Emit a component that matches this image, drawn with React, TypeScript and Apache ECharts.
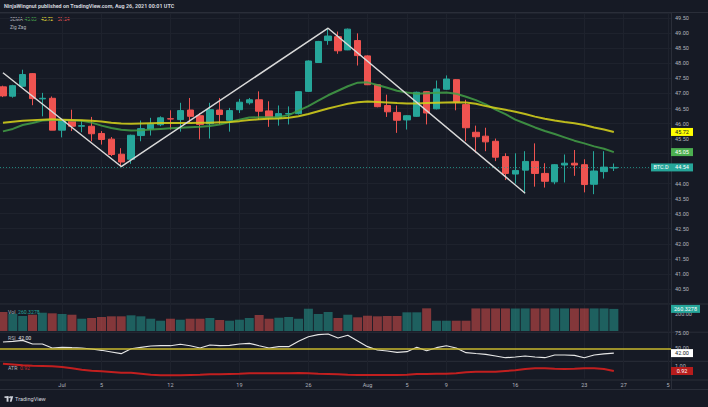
import React, { useEffect, useRef } from "react";
import * as echarts from "echarts";

// ---------------- data ----------------
const HEADER = "NinjaWingnut published on TradingView.com, Aug 26, 2021 00:01 UTC";
const SYMBOL = "BTC.D";

// daily candles, Jun 25 .. Aug 26 2021 (index 0..62)
const opens = [47.22, 46.91, 47.24, 47.66, 46.82, 46.84, 45.78, 46.08, 45.91, 45.91, 45.67, 45.48, 44.98, 44.81, 45.60, 45.82, 45.96, 46.16, 46.13, 46.45, 46.26, 45.99, 46.45, 46.11, 46.46, 46.69, 46.79, 46.42, 46.18, 46.32, 46.33, 47.07, 48.03, 48.76, 48.89, 48.45, 48.76, 48.25, 47.29, 46.60, 46.37, 46.12, 46.24, 47.06, 46.49, 47.14, 47.46, 46.63, 45.71, 45.58, 45.41, 44.90, 44.32, 44.45, 44.74, 44.34, 44.06, 44.62, 44.68, 44.63, 43.98, 44.40, 44.52];
const closes = [46.92, 47.26, 47.63, 46.83, 46.84, 45.78, 46.10, 45.91, 45.93, 45.66, 45.47, 44.97, 44.72, 45.61, 45.83, 45.98, 46.19, 46.15, 46.43, 46.24, 45.97, 46.46, 46.30, 46.43, 46.71, 46.79, 46.41, 46.19, 46.33, 46.33, 47.06, 48.08, 48.73, 48.91, 48.42, 49.14, 48.26, 47.29, 46.56, 46.39, 46.11, 46.26, 47.04, 46.35, 47.15, 47.48, 46.71, 45.86, 45.56, 45.39, 44.88, 44.34, 44.44, 44.74, 44.34, 44.08, 44.63, 44.68, 44.62, 43.97, 44.42, 44.55, 44.54];
const lows = [46.88, 46.86, 47.23, 46.61, 46.24, 45.78, 45.54, 45.75, 45.71, 45.41, 45.30, 44.92, 44.57, 44.66, 45.41, 45.60, 45.91, 45.80, 45.73, 46.02, 45.47, 45.50, 45.97, 45.73, 46.35, 46.63, 46.13, 45.89, 45.93, 45.97, 46.30, 47.05, 48.02, 48.62, 48.32, 48.44, 47.93, 47.28, 46.54, 46.22, 45.69, 45.80, 46.22, 45.97, 46.47, 47.12, 46.44, 45.41, 45.03, 45.08, 44.75, 44.12, 44.00, 43.68, 43.90, 43.87, 43.98, 44.04, 44.26, 43.71, 43.65, 44.17, 44.42];
const highs = [47.26, 47.29, 47.79, 47.68, 47.02, 46.90, 46.15, 46.46, 46.10, 46.22, 45.75, 45.55, 45.18, 45.63, 46.10, 46.19, 46.24, 46.44, 46.69, 46.85, 46.35, 46.69, 46.85, 46.52, 46.82, 46.85, 47.07, 46.74, 46.60, 46.57, 47.07, 48.10, 48.75, 49.14, 49.06, 49.16, 49.00, 48.27, 47.31, 46.96, 46.60, 46.28, 47.06, 47.08, 47.43, 47.60, 47.48, 46.79, 45.93, 45.86, 45.50, 45.01, 45.01, 45.08, 45.34, 44.68, 44.65, 44.97, 45.12, 44.81, 45.08, 45.08, 44.67];

const emaFast = [45.74, 45.82, 45.95, 46.02, 46.10, 46.12, 46.12, 46.10, 46.09, 46.03, 45.93, 45.85, 45.79, 45.77, 45.78, 45.80, 45.82, 45.84, 45.86, 45.88, 45.89, 45.92, 45.97, 46.05, 46.13, 46.20, 46.21, 46.21, 46.22, 46.28, 46.43, 46.58, 46.76, 46.94, 47.09, 47.24, 47.36, 47.37, 47.28, 47.19, 47.09, 47.03, 46.99, 47.01, 47.02, 47.03, 46.99, 46.89, 46.78, 46.64, 46.46, 46.31, 46.13, 46.00, 45.87, 45.75, 45.65, 45.54, 45.43, 45.34, 45.24, 45.16, 45.05];
const emaMid = [46.03, 46.06, 46.09, 46.11, 46.13, 46.14, 46.13, 46.12, 46.11, 46.09, 46.07, 46.03, 46.00, 45.99, 46.00, 46.01, 46.02, 46.02, 46.02, 46.02, 46.03, 46.03, 46.04, 46.05, 46.08, 46.12, 46.14, 46.16, 46.17, 46.19, 46.24, 46.32, 46.41, 46.50, 46.58, 46.66, 46.71, 46.73, 46.72, 46.70, 46.68, 46.67, 46.67, 46.68, 46.69, 46.70, 46.71, 46.70, 46.66, 46.58, 46.52, 46.46, 46.39, 46.32, 46.23, 46.16, 46.10, 46.05, 46.01, 45.95, 45.87, 45.80, 45.72];
const emaSlowLast = 50.24;

const zigzagIdx = [0, 12, 33, 53];
const zigzagVal = [47.69, 44.57, 49.17, 43.68];

const volumes = [223.5, 203.5, 176.5, 191.8, 215.3, 208.2, 200, 191.8, 144.7, 152.9, 164.7, 172.9, 172.9, 184.7, 172.9, 144.7, 121.2, 144.7, 132.9, 144.7, 144.7, 152.9, 129.4, 121.2, 132.9, 152.9, 188.2, 144.7, 156.5, 164.7, 144.7, 262.4, 200, 223.5, 152.9, 191.8, 161.2, 180, 172.9, 176.5, 176.5, 220, 220, 267, 121.2, 121.2, 121.2, 121.2, 266, 266, 266, 266, 266, 266, 266, 266, 266, 266, 266, 266, 266, 266, 260.3278];

const rsi = [60.5, 61.7, 63.3, 57.2, 57.2, 50.5, 51.7, 51.0, 50.5, 48.8, 46.7, 43.8, 41.0, 49.3, 51.7, 53.8, 54.3, 54.3, 56.7, 54.3, 50.5, 55.5, 54.3, 55.0, 57.2, 58.3, 54.3, 50.5, 52.7, 52.7, 61.7, 69.3, 72.7, 73.8, 67.2, 71.7, 62.2, 52.7, 47.2, 45.5, 43.3, 44.3, 51.7, 46.0, 51.0, 54.3, 50.5, 42.7, 41.3, 40.0, 37.2, 34.3, 35.5, 37.2, 35.5, 34.3, 38.8, 38.8, 38.3, 34.3, 38.8, 40.8, 42.0];
const rsiLevel = 50;

const atr = [1.037, 1.024, 1.011, 1.005, 1.0, 0.995, 0.984, 0.963, 0.941, 0.925, 0.915, 0.904, 0.893, 0.893, 0.877, 0.861, 0.851, 0.851, 0.851, 0.856, 0.861, 0.867, 0.867, 0.872, 0.877, 0.883, 0.883, 0.883, 0.883, 0.883, 0.888, 0.883, 0.877, 0.872, 0.867, 0.861, 0.856, 0.856, 0.856, 0.856, 0.856, 0.861, 0.872, 0.872, 0.877, 0.877, 0.883, 0.899, 0.909, 0.909, 0.909, 0.92, 0.931, 0.952, 0.963, 0.963, 0.957, 0.952, 0.957, 0.963, 0.963, 0.952, 0.92];

const dateTickIdx = [6, 10, 17, 24, 31, 37, 41, 45, 52, 59, 63, 67.5];
const dateTickText = ["Jul", "5", "12", "19", "26", "Aug", "5", "9", "16", "23", "27", "5"];

// ---------------- style ----------------
const BG = "#161a25";
const GRID = "#1e222d";
const SEP = "#2a2e39";
const TXT = "#b2b5be";
const UP = "#26a69a";
const DOWN = "#ef5350";
const FONT = "Roboto, 'Liberation Sans', sans-serif";
const X_MIN = -0.3;
const X_MAX = 67.8;

const last = (a: number[]) => a[a.length - 1];

function tag(value: number, text: string, bg: string, fg: string, w: number, dx: number) {
  return {
    coord: [X_MAX, value],
    symbol: "rect",
    symbolSize: [w, 8],
    symbolOffset: [dx, 0],
    itemStyle: { color: bg },
    label: { show: true, position: "inside", formatter: text, color: fg, fontSize: 5.5, fontFamily: FONT },
  };
}

export default function App() {
  const ref = useRef<HTMLDivElement>(null);
  useEffect(() => {
    const chart = echarts.init(ref.current!, null, { renderer: "svg" });
    const idx = opens.map((_, i) => i);
    const candleData = idx.map((i) => [i, opens[i], closes[i], lows[i], highs[i]]);
    const volData = idx.map((i) => ({
      value: [i, volumes[i]],
      itemStyle: { color: closes[i] >= opens[i] ? "rgba(38,166,154,0.5)" : "rgba(239,83,80,0.5)" },
    }));
    const lastClose = last(closes);

    const xAxis = (gi: number, showLabel: boolean) => ({
      type: "value",
      gridIndex: gi,
      min: X_MIN,
      max: X_MAX,
      axisLine: { show: false },
      axisTick: { show: false, customValues: dateTickIdx },
      axisLabel: {
        show: showLabel,
        customValues: dateTickIdx,
        formatter: (v: number) => {
          const k = dateTickIdx.findIndex((t) => Math.abs(t - v) < 1e-6);
          return k >= 0 ? dateTickText[k] : "";
        },
        color: TXT,
        fontSize: 5.5,
        fontFamily: FONT,
        margin: 3,
      },
      splitLine: { show: true, lineStyle: { color: GRID, width: 1 } },
    });

    const yLabel = { color: TXT, fontSize: 5.5, fontFamily: FONT, margin: 4 };

    const option: any = {
      animation: false,
      backgroundColor: BG,
      grid: [
        { left: 0, right: 37, top: 13, height: 290.9 },
        { left: 0, right: 37, top: 304, height: 27 },
        { left: 0, right: 37, top: 332.7, height: 30.6 },
        { left: 0, right: 37, top: 361.3, height: 17.2 },
      ],
      xAxis: [xAxis(0, false), xAxis(1, false), xAxis(2, false), xAxis(3, true)],
      yAxis: [
        {
          type: "value", gridIndex: 0, position: "right", min: 40, max: 49.677, interval: 0.5,
          axisLine: { show: false }, axisTick: { show: false },
          axisLabel: {
            ...yLabel,
            formatter: (v: number) => (Math.abs(v * 2 - Math.round(v * 2)) < 1e-6 && v > 40.1 && v < 49.6 ? v.toFixed(2) : ""),
          },
          splitLine: { show: true, lineStyle: { color: GRID } },
        },
        {
          type: "value", gridIndex: 1, position: "right", min: 0, max: 318, interval: 200,
          axisLine: { show: false }, axisTick: { show: false },
          axisLabel: { ...yLabel, formatter: (v: number) => (v === 200 ? "200.00" : "") },
          splitLine: { show: false },
        },
        {
          type: "value", gridIndex: 2, position: "right", min: 25, max: 76, interval: 25,
          axisLine: { show: false }, axisTick: { show: false },
          axisLabel: { ...yLabel, formatter: (v: number) => (v === 50 || v === 75 ? v.toFixed(2) : "") },
          splitLine: { show: false },
        },
        {
          type: "value", gridIndex: 3, position: "right", min: 0.8, max: 1.0752, interval: 0.1,
          axisLine: { show: false }, axisTick: { show: false },
          axisLabel: { ...yLabel, formatter: (v: number) => (Math.abs(v - 1) < 1e-6 ? "1.00" : "") },
          splitLine: { show: false },
        },
      ],
      series: [
        {
          type: "candlestick",
          xAxisIndex: 0, yAxisIndex: 0,
          data: candleData,
          encode: { x: 0, y: [1, 2, 3, 4] },
          barWidth: 6.8,
          itemStyle: { color: UP, color0: DOWN, borderColor: UP, borderColor0: DOWN, borderWidth: 1 },
          z: 3,
          markLine: {
            silent: true, symbol: ["none", "none"], label: { show: false },
            lineStyle: { color: "#26a69a", opacity: 0.75, type: [1, 2], width: 1 },
            data: [{ yAxis: lastClose }],
          },
          markPoint: {
            silent: true,
            data: [
              tag(lastClose, SYMBOL, UP, "#ffffff", 20, -10),
              tag(lastClose, lastClose.toFixed(2), UP, "#ffffff", 22, 11),
            ],
          },
        },
        {
          type: "line", xAxisIndex: 0, yAxisIndex: 0,
          data: idx.map((i) => [i, emaFast[i]]),
          showSymbol: false, z: 4,
          lineStyle: { color: "#43a047", width: 2, opacity: 0.85 },
          markPoint: { silent: true, data: [tag(last(emaFast), last(emaFast).toFixed(2), "#4caf50", "#ffffff", 22, 11)] },
        },
        {
          type: "line", xAxisIndex: 0, yAxisIndex: 0,
          data: idx.map((i) => [i, emaMid[i]]),
          showSymbol: false, z: 4,
          lineStyle: { color: "#cfcc1c", width: 2, opacity: 0.9 },
          markPoint: { silent: true, data: [tag(last(emaMid), last(emaMid).toFixed(2), "#ffff00", "#131722", 22, 11)] },
        },
        {
          type: "line", xAxisIndex: 0, yAxisIndex: 0,
          data: zigzagIdx.map((x, k) => [x, zigzagVal[k]]),
          showSymbol: false, z: 5,
          lineStyle: { color: "#d8d8d8", width: 1.5 },
        },
        {
          type: "bar", xAxisIndex: 1, yAxisIndex: 1,
          data: volData, barWidth: 9,
          markPoint: { silent: true, data: [tag(last(volumes), last(volumes).toFixed(4), UP, "#ffffff", 29, 14.5)] },
        },
        {
          type: "line", xAxisIndex: 2, yAxisIndex: 2,
          data: idx.map((i) => [i, rsi[i]]),
          showSymbol: false,
          lineStyle: { color: "#e6e6e6", width: 1.2 },
          markLine: {
            silent: true, symbol: ["none", "none"], label: { show: false },
            lineStyle: { color: "#c9b82c", type: "solid", width: 1.5 },
            data: [{ yAxis: rsiLevel }],
          },
          markPoint: { silent: true, data: [tag(last(rsi), last(rsi).toFixed(2), "#ffffff", "#131722", 22, 11)] },
        },
        {
          type: "line", xAxisIndex: 3, yAxisIndex: 3,
          data: idx.map((i) => [i, atr[i]]),
          showSymbol: false,
          lineStyle: { color: "#c21f1f", width: 2 },
          markPoint: { silent: true, data: [tag(last(atr), last(atr).toFixed(2), "#b71c1c", "#ffffff", 22, 11)] },
        },
      ],
      graphic: [
        ...[12.5, 304, 332.2, 361.3, 380, 389.5].map((y) => ({
          type: "line", silent: true, shape: { x1: 0, y1: y, x2: 708, y2: y }, style: { stroke: SEP, lineWidth: 1 },
        })),
        { type: "line", silent: true, shape: { x1: 671.5, y1: 12.5, x2: 671.5, y2: 389.5 }, style: { stroke: SEP, lineWidth: 1 } },
        { type: "text", silent: true, x: 4, y: 6, style: { text: HEADER, fill: "#d1d4dc", fontSize: 5.4, fontWeight: "bold", fontFamily: FONT, verticalAlign: "middle" } },
        { type: "text", silent: true, x: 10, y: 19, style: { text: "3EMA", fill: TXT, fontSize: 4.8, fontFamily: FONT, verticalAlign: "middle" } },
        { type: "text", silent: true, x: 24.5, y: 19, style: { text: last(emaFast).toFixed(2), fill: "#4caf50", fontSize: 4.8, fontFamily: FONT, verticalAlign: "middle" } },
        { type: "text", silent: true, x: 41, y: 19, style: { text: last(emaMid).toFixed(2), fill: "#ffeb3b", fontSize: 4.8, fontFamily: FONT, verticalAlign: "middle" } },
        { type: "text", silent: true, x: 57.5, y: 19, style: { text: emaSlowLast.toFixed(2), fill: DOWN, fontSize: 4.8, fontFamily: FONT, verticalAlign: "middle" } },
        { type: "text", silent: true, x: 10, y: 27, style: { text: "Zig Zag", fill: TXT, fontSize: 4.8, fontFamily: FONT, verticalAlign: "middle" } },
        {
          type: "text", silent: true, x: 8, y: 311.7,
          style: { text: "{a|Vol}  {b|" + last(volumes).toFixed(4) + "}", fontSize: 5.2, fontFamily: FONT, verticalAlign: "middle",
            rich: { a: { fill: TXT, fontSize: 5.2, fontFamily: FONT }, b: { fill: UP, fontSize: 5.2, fontFamily: FONT } } },
        },
        {
          type: "text", silent: true, x: 8, y: 337.7,
          style: { text: "{a|RSI}  {b|" + last(rsi).toFixed(2) + "}", fontSize: 5.2, fontFamily: FONT, verticalAlign: "middle",
            rich: { a: { fill: TXT, fontSize: 5.2, fontFamily: FONT }, b: { fill: "#e6e6e6", fontSize: 5.2, fontFamily: FONT } } },
        },
        {
          type: "text", silent: true, x: 8, y: 368.3,
          style: { text: "{a|ATR}  {b|" + last(atr).toFixed(2) + "}", fontSize: 5.2, fontFamily: FONT, verticalAlign: "middle",
            rich: { a: { fill: TXT, fontSize: 5.2, fontFamily: FONT }, b: { fill: "#c62828", fontSize: 5.2, fontFamily: FONT } } },
        },
        { type: "rect", silent: true, shape: { x: 4.5, y: 396.3, width: 4, height: 1.6 }, style: { fill: "#d1d4dc" } },
        { type: "rect", silent: true, shape: { x: 6.6, y: 396.3, width: 1.9, height: 5.4 }, style: { fill: "#d1d4dc" } },
        { type: "circle", silent: true, shape: { cx: 10, cy: 397.2, r: 0.95 }, style: { fill: "#d1d4dc" } },
        { type: "polygon", silent: true, shape: { points: [[11.2, 396.3], [13.2, 396.3], [11.6, 401.7], [9.8, 401.7]] }, style: { fill: "#d1d4dc" } },
        { type: "text", silent: true, x: 15, y: 399, style: { text: "TradingView", fill: "#d1d4dc", fontSize: 5.6, fontFamily: FONT, verticalAlign: "middle" } },
      ],
    };
    chart.setOption(option);
    return () => chart.dispose();
  }, []);
  return <div ref={ref} style={{ position: "fixed", left: 0, top: 0, width: 708, height: 407, background: BG }} />;
}
